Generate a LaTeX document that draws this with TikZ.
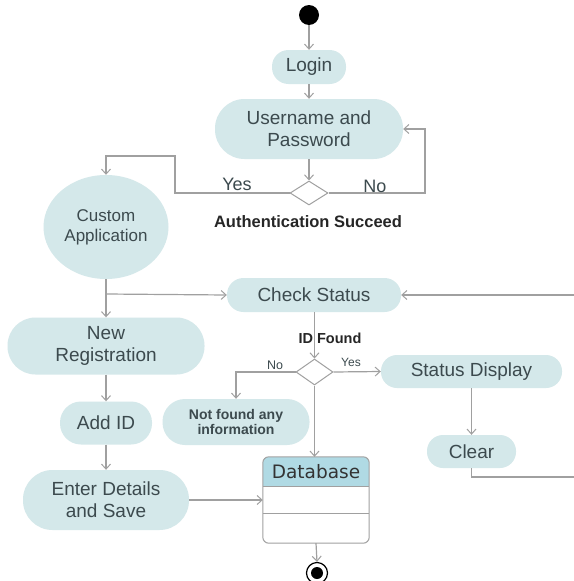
\documentclass[tikz,border=0pt]{standalone}
\usepackage{fontspec}
\setmainfont{Liberation Sans}
\newfontfamily\dbfont{DejaVu Sans}
\usetikzlibrary{arrows.meta,shapes.geometric}

\definecolor{actfill}{RGB}{212,232,234}
\definecolor{dbhead}{RGB}{176,218,228}
\definecolor{flow}{RGB}{160,160,160}
\definecolor{txt}{RGB}{60,74,78}

\tikzset{
  act/.style={fill=actfill, text=txt, align=center, inner sep=0pt,
    font=\fontsize{19}{22}\selectfont},
  gate/.style={diamond, draw=flow, fill=white, line width=1pt, inner sep=0pt},
  flowline/.style={draw=flow, line width=1.2pt},
  arr/.style={flowline, -{Straight Barb[length=5pt,width=9pt,line width=1pt]}},
  lbl/.style={text=txt, inner sep=0pt},
}

\begin{document}
\begin{tikzpicture}[x=1pt,y=-1pt]
\useasboundingbox (0,0) rectangle (573,581);
\fill[white] (0,0) rectangle (573,581);

% start and activities
\node[circle, fill=black, minimum size=20pt, inner sep=0pt] (start) at (309,15) {};
\node[act, minimum width=74pt, minimum height=34pt, rounded corners=16.5pt] (login) at (309,67) {Login};
\node[act, minimum width=188pt, minimum height=60pt, rounded corners=29.5pt] (userpw) at (309,129) {Username and\\Password};
\node[gate, minimum width=38pt, minimum height=24pt] (auth) at (309,193) {};
\node[ellipse, fill=actfill, text=txt, align=center, inner sep=0pt,
  minimum width=125pt, minimum height=104pt, font=\fontsize{17}{20}\selectfont] (custom) at (106,227) {Custom\\Application};
\node[act, minimum width=174pt, minimum height=34pt, rounded corners=16.5pt] (check) at (314,295) {Check Status};
\node[act, minimum width=197pt, minimum height=57pt, rounded corners=28pt] (newreg) at (106,346) {New\\Registration};
\node[act, minimum width=92pt, minimum height=43pt, rounded corners=21pt] (addid) at (106,423) {Add ID};
\node[act, minimum width=166pt, minimum height=60pt, rounded corners=29.5pt] (enter) at (106,500) {Enter Details\\and Save};
\node[gate, minimum width=37pt, minimum height=26pt] (idd) at (314.5,372) {};
\node[act, minimum width=147pt, minimum height=46pt, rounded corners=22.5pt,
  font=\bfseries\fontsize{14}{15}\selectfont] (notfound) at (236,422) {Not found any\\information};
\node[act, minimum width=181pt, minimum height=33pt, rounded corners=16pt] (status) at (471.5,371.5) {Status Display};
\node[act, minimum width=89pt, minimum height=33pt, rounded corners=16pt] (clear) at (471.5,451.5) {Clear};

% database box with header and two compartments
\node[minimum width=106pt, minimum height=86pt, inner sep=0pt] (db) at (316,500) {};
\begin{scope}
  \clip[rounded corners=6pt] (db.south west) rectangle (db.north east);
  \fill[dbhead] (db.north west) rectangle (db.east |- 0,486);
\end{scope}
\draw[flow, line width=1pt] (db.west |- 0,486) -- (db.east |- 0,486);
\draw[flow, line width=1pt] (db.west |- 0,513) -- (db.east |- 0,513);
\draw[flow, line width=1pt, rounded corners=6pt] (db.south west) rectangle (db.north east);
\node[text=black!80, font=\dbfont\fontsize{18.5}{20}\selectfont, inner sep=0pt] (dbtitle) at (316,471.5) {Database};

% final state
\node[circle, draw=black, line width=1.2pt, fill=white, minimum size=21pt, inner sep=0pt] (end) at (317,573) {};
\fill[black] (end.center) circle (6pt);

% connectors
\draw[arr] (start) -- (login);
\draw[arr] (login) -- (userpw);
\draw[arr] (userpw) -- (auth);
\coordinate (noback) at (425,193);
\draw[arr] (auth.east) -- (noback) |- (userpw.east);
\coordinate (yesturn) at (175,156);
\draw[arr] (auth.west) -| (yesturn) -| (custom.north);
\draw[arr] (custom) -- (newreg);
\coordinate (fork) at (106,294);
\draw[arr] (fork) -- (check.west);
\draw[arr] (newreg) -- (addid);
\draw[arr] (addid) -- (enter);
\draw[arr] (enter.east) -- (db.west);
\draw[arr] (db.south) -- (end.north);
\draw[arr] (check.south -| idd.north) -- (idd.north);
\draw[arr] (idd.west) -| (notfound.north);
\draw[arr] (idd.east) -- (status.west);
\draw[arr] (idd.south) -- (idd.south |- db.north);
\draw[arr] (status) -- (clear);
\coordinate (loop) at (585,477);
\draw[flowline] (clear.south) |- (loop);
\draw[arr] (loop) |- (check.east);

% guard labels
\node[lbl, font=\fontsize{18}{20}\selectfont] (lyes) at (237,184) {Yes};
\node[lbl, font=\fontsize{18}{20}\selectfont] (lno) at (375,186) {No};
\node[text=black!85, font=\bfseries\fontsize{16.5}{18}\selectfont, inner sep=0pt] (authlbl) at (308,222) {Authentication Succeed};
\node[text=black!85, font=\bfseries\fontsize{14.5}{16}\selectfont, inner sep=0pt] (idlbl) at (330,338) {ID Found};
\node[lbl, font=\fontsize{12.5}{14}\selectfont] (lno2) at (275,365) {No};
\node[lbl, font=\fontsize{12}{14}\selectfont] (lyes2) at (351,362) {Yes};
\end{tikzpicture}
\end{document}
